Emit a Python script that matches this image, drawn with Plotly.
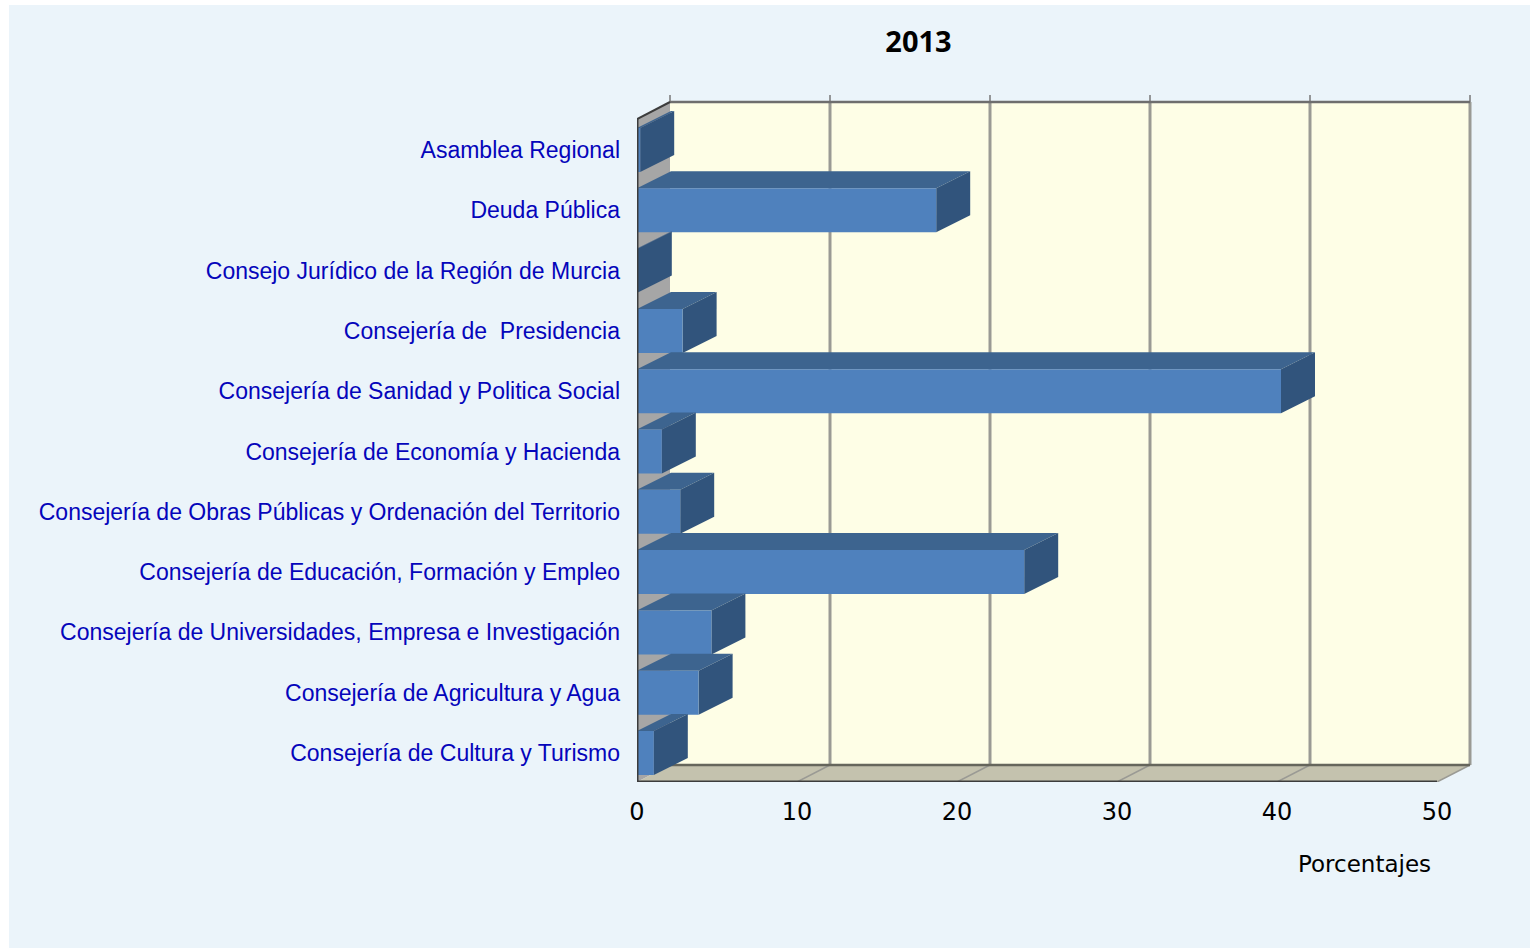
import plotly.graph_objects as go

categories = [
    "Consejería de Cultura y Turismo",
    "Consejería de Agricultura y Agua",
    "Consejería de Universidades, Empresa e Investigación",
    "Consejería de Educación, Formación y Empleo",
    "Consejería de Obras Públicas y Ordenación del Territorio",
    "Consejería de Economía y Hacienda",
    "Consejería de Sanidad y Politica Social",
    "Consejería de  Presidencia",
    "Consejo Jurídico de la Región de Murcia",
    "Deuda Pública",
    "Asamblea Regional",
]
values = [1.05, 3.85, 4.65, 24.2, 2.7, 1.55, 40.25, 2.85, 0.05, 18.7, 0.2]
x_ticks = [0, 10, 20, 30, 40, 50]

W, H = 1530, 949
PX_X = 16.0      # px per percent
PX_Y = 60.3      # px per category
LEFT, RIGHT, TOP, BOTTOM = 637, 1474, 92, 782
Y0_PX = 753      # pixel of first category centre
DX, DY = 33 / PX_X, 17 / PX_Y
BAR_DX = 34 / PX_X
HALF = 22 / PX_Y
FLOOR = (Y0_PX - BOTTOM) / PX_Y
CEIL = (Y0_PX - 119) / PX_Y
XMAX = x_ticks[-1]

C_WALL, C_FLOOR, C_SIDE = "#FEFEE6", "#C4C2AE", "#A6A6A6"
C_FRONT, C_TOP, C_RIGHT = "#4F81BD", "#3D648F", "#31547C"
C_GRID, C_DARK = "#9A9A94", "#3C3C3C"
C_TEXT = "#0505BB"

fig = go.Figure()


def poly(xs, ys, color):
    fig.add_trace(go.Scatter(x=xs, y=ys, mode="lines", fill="toself", fillcolor=color,
                             line=dict(width=0, color=color), hoverinfo="skip", showlegend=False))


def line(xs, ys, color, width):
    fig.add_trace(go.Scatter(x=xs, y=ys, mode="lines", line=dict(color=color, width=width),
                             cliponaxis=False, hoverinfo="skip", showlegend=False))


# walls and floor
poly([DX, XMAX + DX, XMAX + DX, DX], [FLOOR + DY, FLOOR + DY, CEIL + DY, CEIL + DY], C_WALL)
poly([0, DX, DX, 0], [FLOOR, FLOOR + DY, CEIL + DY, CEIL], C_SIDE)
poly([0, XMAX, XMAX + DX, DX], [FLOOR, FLOOR, FLOOR + DY, FLOOR + DY], C_FLOOR)

# grid
for t in x_ticks:
    if t > 0:
        line([t + DX, t + DX], [FLOOR + DY, CEIL + DY], C_GRID, 3)
        line([t, t + DX], [FLOOR, FLOOR + DY], C_GRID, 1.5)
    line([t + DX, t + DX], [CEIL + DY, CEIL + DY + 7 / PX_Y], "#777777", 1.5)
line([DX, XMAX + DX], [CEIL + DY, CEIL + DY], "#6E6E6E", 2.5)
line([DX, XMAX + DX], [FLOOR + DY, FLOOR + DY], "#66665C", 2.5)
line([0, DX], [CEIL, CEIL + DY], "#3C3C3C", 2)

# bars
for i in range(len(values) - 1, -1, -1):
    v = values[i]
    lo, hi = i - HALF, i + HALF
    poly([0, v, v + BAR_DX, BAR_DX], [hi, hi, hi + DY, hi + DY], C_TOP)
    poly([v, v + BAR_DX, v + BAR_DX, v], [lo, lo + DY, hi + DY, hi], C_RIGHT)
    poly([0, v, v, 0], [lo, lo, hi, hi], C_FRONT)

# front edges
line([0, 0], [FLOOR, CEIL], C_DARK, 3)
line([0, XMAX], [FLOOR, FLOOR], C_DARK, 3)

fig.update_layout(
    width=W, height=H, autosize=False,
    margin=dict(l=LEFT, r=W - RIGHT, t=TOP, b=H - BOTTOM, pad=0),
    paper_bgcolor="white", plot_bgcolor="rgba(0,0,0,0)", showlegend=False,
    title=dict(text="<b>2013</b>", x=918.5 / W, xref="container", xanchor="center",
               y=1 - 42 / H, yref="container", yanchor="middle",
               font=dict(family="Open Sans", size=29, color="black")),
    xaxis=dict(range=[0, (RIGHT - LEFT) / PX_X], tickmode="array", tickvals=x_ticks,
               ticktext=[str(t) for t in x_ticks], showgrid=False, zeroline=False, showline=False,
               ticks="", ticklabelstandoff=13, tickfont=dict(family="DejaVu Sans", size=24, color="black")),
    yaxis=dict(range=[FLOOR, (Y0_PX - TOP) / PX_Y], tickmode="array", tickvals=list(range(len(categories))),
               ticktext=categories, showgrid=False, zeroline=False, showline=False,
               ticks="", ticklabelstandoff=16, tickfont=dict(family="Liberation Sans", size=23, color=C_TEXT)),
    shapes=[dict(type="rect", xref="paper", yref="paper", layer="below", line_width=0, fillcolor="#EBF4FA",
                 x0=(9 - LEFT) / (RIGHT - LEFT), x1=(W - LEFT) / (RIGHT - LEFT),
                 y0=(BOTTOM - 948) / (BOTTOM - TOP), y1=(BOTTOM - 5) / (BOTTOM - TOP))],
    annotations=[dict(text="Porcentajes", xref="paper", yref="paper", showarrow=False,
                      x=(1364.5 - LEFT) / (RIGHT - LEFT), y=(BOTTOM - 864) / (BOTTOM - TOP),
                      xanchor="center", yanchor="middle",
                      font=dict(family="DejaVu Sans", size=23, color="black"))],
)

fig.write_html("out.html", post_script="document.body.style.margin='0';",
               config={"displayModeBar": False})
